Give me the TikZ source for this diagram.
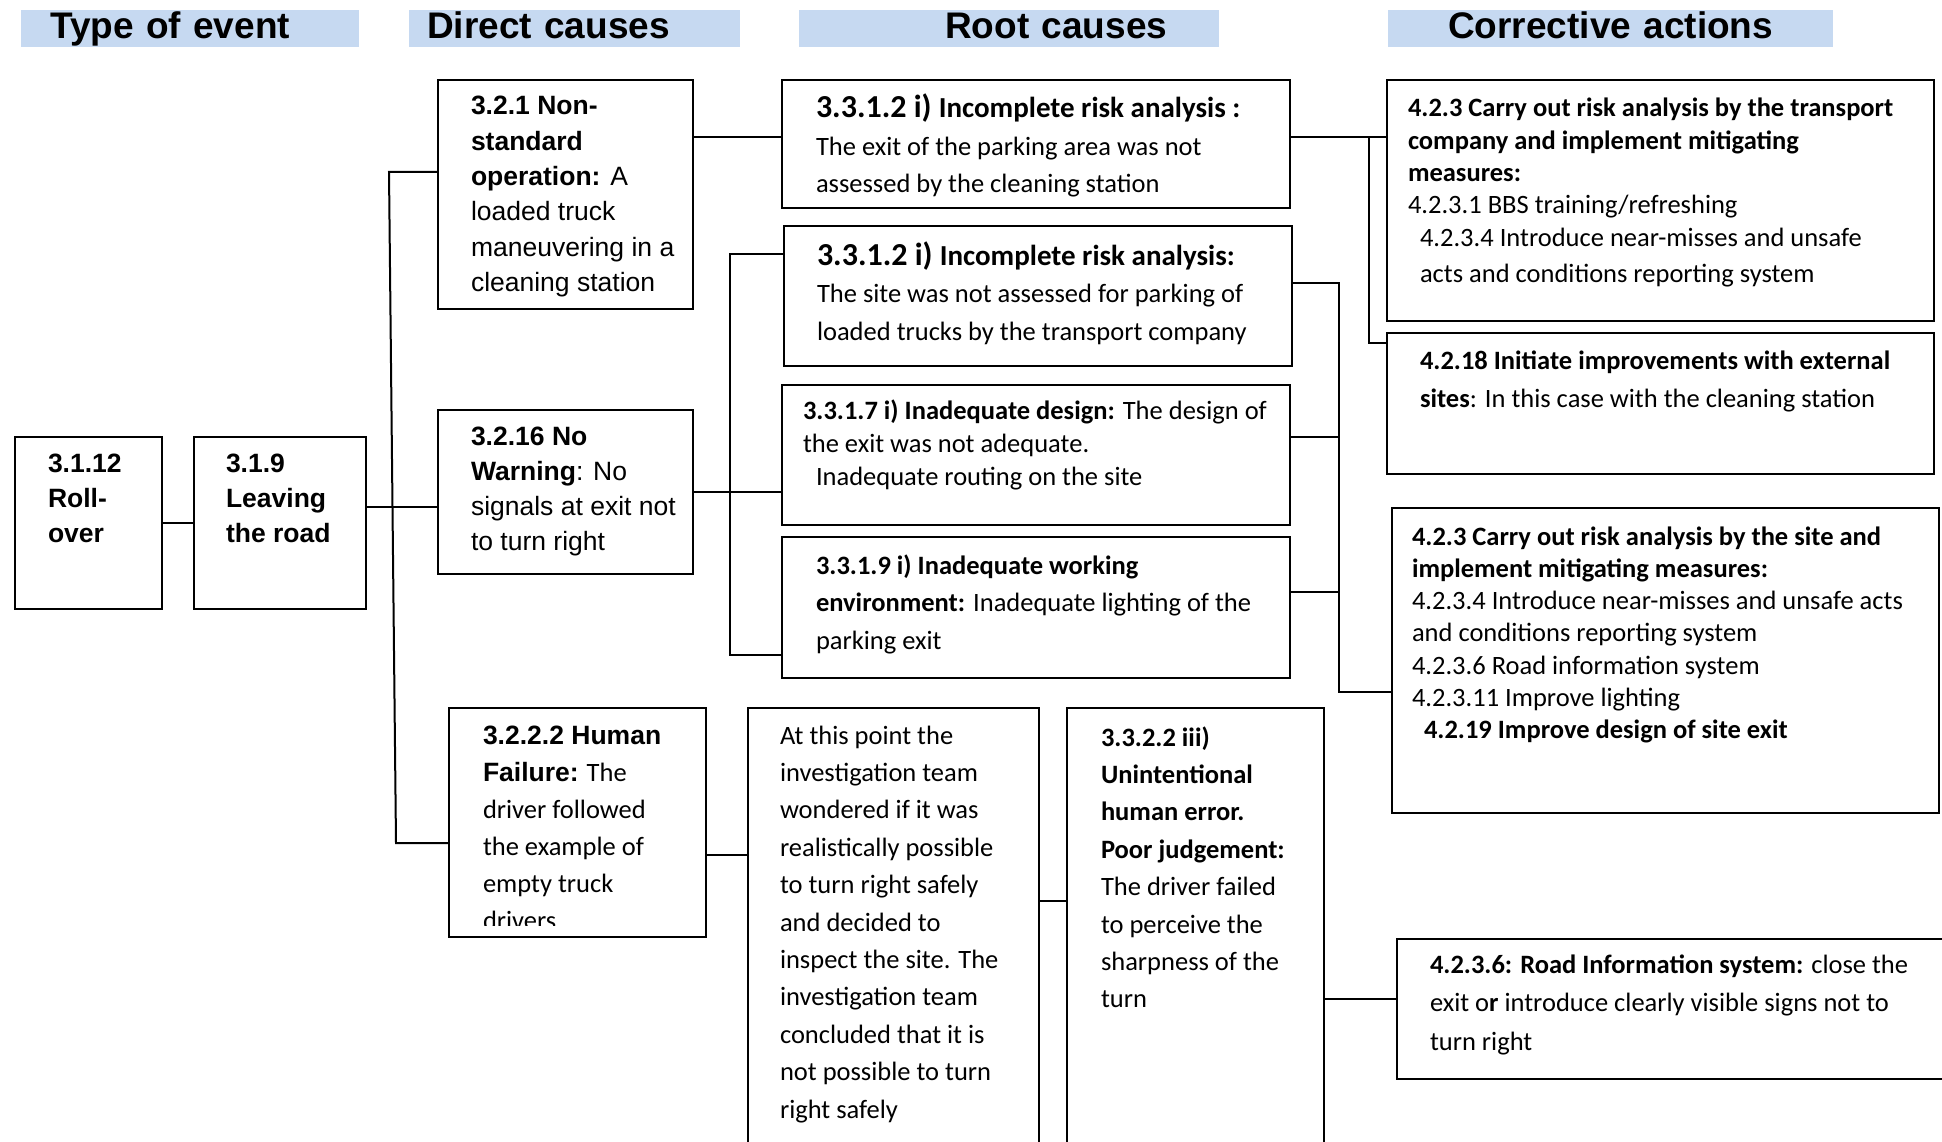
\documentclass[tikz,border=0pt]{standalone}
\usepackage{fontspec}
\setmainfont{Carlito}
\newfontfamily\arialf{Liberation Sans}
\usepackage{tikz}
\usetikzlibrary{positioning}

\definecolor{hdrblue}{RGB}{198,217,241}

% text block of a box: width, height, first baseline, left pad, text
\newcommand{\celltext}[5]{\parbox[t][#2][t]{#1}{\vspace*{\dimexpr#3-26pt\relax}\raggedright\leftskip=#4\relax\leavevmode\rule{0pt}{26pt}#5}}
\newcommand{\dfont}{\arialf\fontsize{26.5pt}{35.3pt}\selectfont}
\newcommand{\rfont}[1]{\fontsize{26.5pt}{#1}\selectfont}

\begin{document}
\begin{tikzpicture}[x=1pt, y=-1pt,
    box/.style={draw, line width=2pt, anchor=north west, inner sep=0pt},
    hdr/.style={fill=hdrblue, anchor=north west, inner sep=0pt, align=left,
      text height=28pt, text depth=9pt, font=\arialf\bfseries\fontsize{37pt}{40pt}\selectfont},
    link/.style={line width=2pt}
  ]
    \useasboundingbox (0,0) rectangle (1942,1142);

    \node[hdr, text width=338pt] (hevent) at (21,10) {\hspace*{29pt}Type of event};
    \node[hdr, text width=331pt] (hdirect) at (409,10) {\hspace*{18pt}Direct causes};
    \node[hdr, text width=420pt] (hroot) at (799,10) {\hspace*{146pt}Root causes};
    \node[hdr, text width=445pt] (hact) at (1388,10) {\hspace*{60pt}Corrective actions};

    % type of event
    \node[box] (roll) at (14,436) {\celltext{147pt}{172pt}{35pt}{33pt}{\dfont\bfseries 3.1.12\\Roll-\\over}};
    \node[box] (leave) at (193,436) {\celltext{172pt}{172pt}{35pt}{32pt}{\dfont\bfseries 3.1.9\\Leaving\\the road}};

    % direct causes
    \node[box] (d1) at (437,79) {\celltext{255pt}{229pt}{35pt}{33pt}{\dfont\textbf{3.2.1 Non-}\\\textbf{standard}\\\textbf{operation:} A\\loaded truck\\maneuvering in a\\cleaning station}};
    \node[box] (d16) at (437,409) {\celltext{255pt}{164pt}{35pt}{33pt}{\dfont\textbf{3.2.16 No}\\\textbf{Warning}: No\\signals at exit not\\to turn right}};
    \begin{scope}[even odd rule]
      \clip (0,0) rectangle (1942,1142) (450,925) rectangle (703,934);
      \node[box] (d3) at (448,707) {\celltext{257pt}{229pt}{36pt}{34pt}{\rfont{37pt}{\dfont\bfseries 3.2.2.2 Human}\\{\dfont\bfseries Failure:} The\\driver followed\\the example of\\empty truck\\drivers}};
    \end{scope}

    % root causes
    \node[box] (r1) at (781,79) {\celltext{508pt}{128pt}{38pt}{34pt}{\rfont{37.5pt}{\fontsize{32pt}{37.5pt}\selectfont\bfseries 3.3.1.2 i) }{\fontsize{29pt}{37.5pt}\selectfont\bfseries Incomplete risk analysis :}\\The exit of the parking area was not\\assessed by the cleaning station}};
    \node[box] (r2) at (783,225) {\celltext{508pt}{140pt}{39pt}{33pt}{\rfont{37.5pt}{\fontsize{32pt}{37.5pt}\selectfont\bfseries 3.3.1.2 i) }{\fontsize{29pt}{37.5pt}\selectfont\bfseries Incomplete risk analysis:}\\The site was not assessed for parking of\\loaded trucks by the transport company}};
    \node[box] (r3) at (781,384) {\celltext{508pt}{140pt}{34pt}{21pt}{\rfont{33pt}\textbf{3.3.1.7 i) Inadequate design:} The design of\\the exit was not adequate.\\\hspace*{13pt}Inadequate routing on the site}};
    \node[box] (r4) at (781,536) {\celltext{508pt}{141pt}{37pt}{34pt}{\rfont{37.5pt}\textbf{3.3.1.9 i) Inadequate working}\\\textbf{environment:} Inadequate lighting of the\\parking exit}};
    \node[box] (mid) at (747,707) {\celltext{291pt}{460pt}{36pt}{32pt}{\rfont{37.4pt}At this point the\\investigation team\\wondered if it was\\realistically possible\\to turn right safely\\and decided to\\inspect the site. The\\investigation team\\concluded that it is\\not possible to turn\\right safely}};
    \node[box] (hum) at (1066,707) {\celltext{257pt}{460pt}{38pt}{34pt}{\rfont{37.4pt}\textbf{3.3.2.2 iii)}\\\textbf{Unintentional}\\\textbf{human error.}\\\textbf{Poor judgement:}\\The driver failed\\to perceive the\\sharpness of the\\turn}};

    % corrective actions
    \node[box] (c1) at (1386,79) {\celltext{547pt}{241pt}{37pt}{21pt}{\rfont{32.3pt}\textbf{4.2.3 Carry out risk analysis by the transport}\\\textbf{company and implement mitigating}\\\textbf{measures:}\\4.2.3.1 BBS training/refreshing\\\hspace*{12pt}4.2.3.4 Introduce near-misses and unsafe\\[4pt]\hspace*{12pt}acts and conditions reporting system}};
    \node[box] (c2) at (1386,332) {\celltext{547pt}{141pt}{36pt}{33pt}{\rfont{38pt}\textbf{4.2.18 Initiate improvements with external}\\\textbf{sites}: In this case with the cleaning station}};
    \node[box] (c3) at (1391,507) {\celltext{547pt}{305pt}{37pt}{20pt}{\rfont{32.3pt}\textbf{4.2.3 Carry out risk analysis by the site and}\\\textbf{implement mitigating measures:}\\4.2.3.4 Introduce near-misses and unsafe acts\\and conditions reporting system\\4.2.3.6 Road information system\\4.2.3.11 Improve lighting\\\hspace*{12pt}\textbf{4.2.19 Improve design of site exit}}};
    \node[box] (c4) at (1396,938) {\celltext{570pt}{140pt}{34pt}{33pt}{\rfont{38.5pt}\textbf{4.2.3.6: Road Information system:} close the\\exit o\textbf{r} introduce clearly visible signs not to\\turn right}};

    % bus junctions
    \coordinate (ja) at (389,172);
    \coordinate (jb) at (396,843);
    \coordinate (jc) at (730,254);
    \coordinate (jd) at (730,655);
    \coordinate (je) at (1369,137);
    \coordinate (jf) at (1369,343);
    \coordinate (jg) at (1339,283);
    \coordinate (jh) at (1339,692);

    \draw[link] (roll) -- (leave);
    \draw[link] ([yshift=16pt]leave.east) -- ([yshift=16pt]leave.east -| d16.west);
    \draw[link] (d1.west |- ja) -- (ja) -- (jb) -- (d3.west |- jb);

    \draw[link] (d1.east |- je) -- (r1.west |- je);
    \draw[link] (d16.east) -- (d16.east -| r3.west);
    \draw[link] (r2.west |- jc) -- (jc) -- (jd) -- (r4.west |- jd);
    \draw[link] ([yshift=-32pt]d3.east) -- ([yshift=-32pt]d3.east -| mid.west);
    \draw[link] ([yshift=37pt]mid.east) -- ([yshift=37pt]mid.east -| hum.west);

    \draw[link] (r1.east |- je) -- (c1.west |- je);
    \draw[link] (je) -- (jf) -- (c2.west |- jf);
    \draw[link] (r2.east |- jg) -- (jg) -- (jh) -- (c3.west |- jh);
    \draw[link] ([yshift=18pt]r3.east) -- ([yshift=18pt]r3.east -| jg);
    \draw[link] ([yshift=16pt]r4.east) -- ([yshift=16pt]r4.east -| jg);
    \draw[link] ([yshift=10pt]c4.west) -- ([yshift=10pt]c4.west -| hum.east);
\end{tikzpicture}
\end{document}
